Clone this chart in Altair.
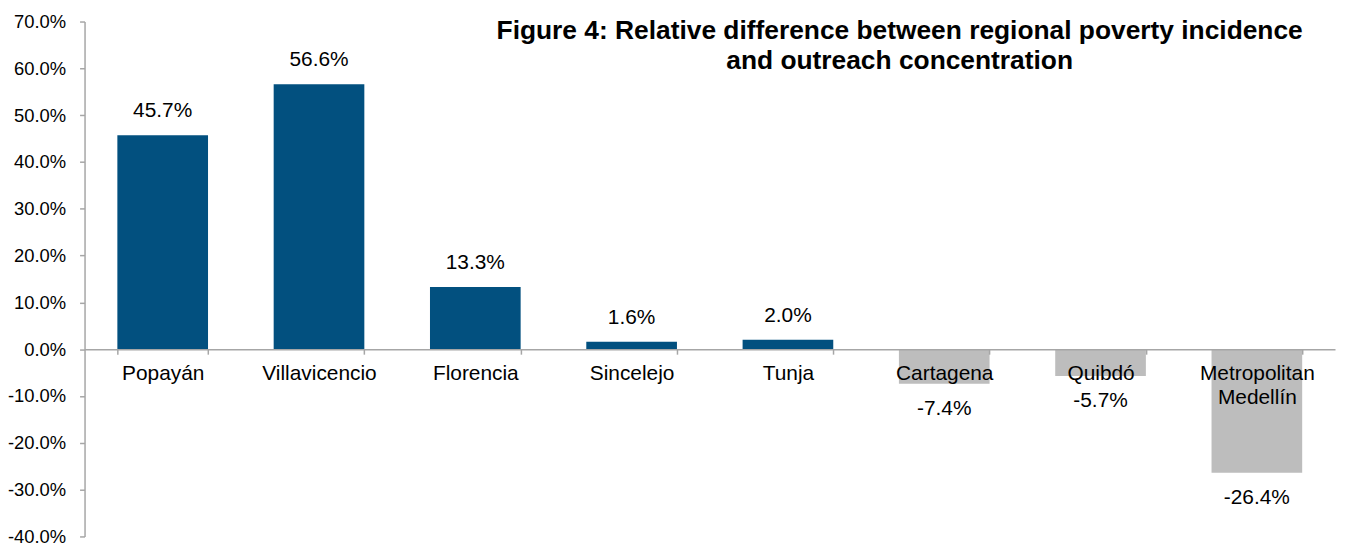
import altair as alt
import pandas as pd

categories = ["Popayán", "Villavicencio", "Florencia", "Sincelejo", "Tunja",
              "Cartagena", "Quibdó", "Metropolitan\nMedellín"]
values = [0.457, 0.566, 0.133, 0.016, 0.020, -0.074, -0.057, -0.264]
title_lines = ["Figure 4: Relative difference between regional poverty incidence",
               "and outreach concentration"]
y_ticks = [-0.4, -0.3, -0.2, -0.1, 0.0, 0.1, 0.2, 0.3, 0.4, 0.5, 0.6, 0.7]

NAVY = "#02507F"
GRAY = "#BDBDBD"
AXIS_GRAY = "#A6A6A6"
FONT = "Liberation Sans"

W, H = 1258, 518
Y_MIN, Y_MAX = -0.4, 0.7
x_offset = -H * (0 - Y_MIN) / (Y_MAX - Y_MIN)

df = pd.DataFrame({"category": categories, "value": values})
df_title = pd.DataFrame({"t": ["\n".join(title_lines)]})

x_enc = alt.X(
    "category:N",
    sort=categories,
    scale=alt.Scale(paddingInner=0.42, paddingOuter=0.21),
    axis=alt.Axis(
        title=None,
        orient="bottom",
        offset=x_offset,
        zindex=1,
        labelAngle=0,
        labelFont=FONT,
        labelFontSize=21,
        labelColor="black",
        labelPadding=8,
        labelLineHeight=25,
        labelExpr="split(datum.label, '\\n')",
        tickBand="extent",
        tickSize=5,
        tickColor=AXIS_GRAY,
        domainColor=AXIS_GRAY,
        domainWidth=1.5,
        tickWidth=1.5,
    ),
)

y_scale = alt.Scale(domain=[Y_MIN, Y_MAX], nice=False)

bars = alt.Chart(df).mark_bar().encode(
    x=x_enc,
    y=alt.Y(
        "value:Q",
        scale=y_scale,
        axis=alt.Axis(
            title=None,
            values=y_ticks,
            format=".1%",
            labelExpr="replace(datum.label, '\u2212', '-')",
            grid=False,
            labelFont=FONT,
            labelFontSize=18.5,
            labelColor="black",
            labelPadding=14,
            tickSize=5,
            tickColor=AXIS_GRAY,
            domainColor=AXIS_GRAY,
            domainWidth=1.5,
            tickWidth=1.5,
        ),
    ),
    color=alt.condition(alt.datum.value > 0, alt.value(NAVY), alt.value(GRAY)),
)

label_base = alt.Chart(df).transform_calculate(
    lbl="replace(format(datum.value, '.1%'), '\u2212', '-')"
)

pos_labels = label_base.transform_filter(alt.datum.value >= 0).mark_text(
    font=FONT, fontSize=21, color="black", baseline="middle", dy=-24
).encode(
    x=alt.X("category:N", sort=categories),
    y=alt.Y("value:Q", scale=y_scale),
    text="lbl:N",
)

neg_labels = label_base.transform_filter(alt.datum.value < 0).mark_text(
    font=FONT, fontSize=21, color="black", baseline="middle", dy=25
).encode(
    x=alt.X("category:N", sort=categories),
    y=alt.Y("value:Q", scale=y_scale),
    text="lbl:N",
)

title = alt.Chart(df_title).mark_text(
    font=FONT, fontSize=26.5, fontWeight="bold", color="black",
    align="center", baseline="middle", lineBreak="\n", lineHeight=30,
).encode(
    x=alt.value(820),
    y=alt.value(10),
    text="t:N",
)

chart = alt.layer(bars, pos_labels, neg_labels, title).properties(
    width=W, height=H,
    autosize=alt.AutoSizeParams(type="none"),
    padding={"left": 77, "top": 12, "right": 2, "bottom": 8},
).configure(background="white").configure_view(stroke=None)

chart.save("out.html", embed_options={"renderer": "svg", "actions": False})
